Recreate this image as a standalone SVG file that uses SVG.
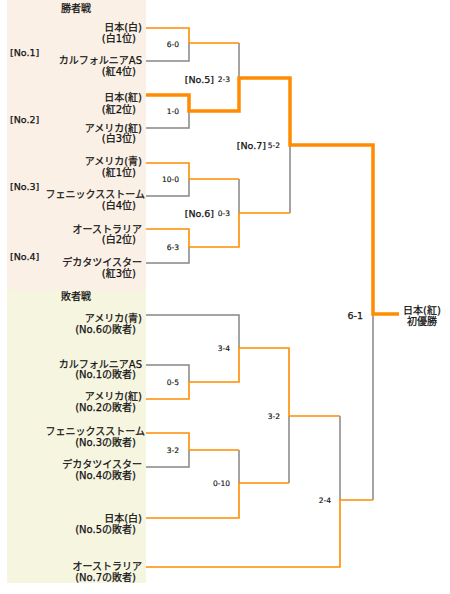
<svg xmlns="http://www.w3.org/2000/svg" width="450" height="594" viewBox="0 0 450 594">
<style>
text{stroke:#111;stroke-width:0.25;fill:#111}
.t{font-family:"DejaVu Sans","Noto Sans CJK JP",sans-serif;font-size:10px;text-anchor:end}
.c{font-family:"DejaVu Sans","Noto Sans CJK JP",sans-serif;font-size:10px;text-anchor:middle}
.n{font-family:"DejaVu Sans",sans-serif;font-size:9.5px}
.ne{font-family:"DejaVu Sans",sans-serif;font-size:9.5px;text-anchor:end}
.s{font-family:"DejaVu Sans",sans-serif;font-size:7.5px;text-anchor:end;stroke-width:0.15}
.o{stroke:#FF8C00;stroke-width:1.6;fill:none}
.ot{stroke:#FF8C00;stroke-width:3.5;fill:none}
.g{stroke:#868686;stroke-width:1.5;fill:none}
</style>
<rect x="7" y="0" width="139" height="290" fill="#FAF0E6"/>
<rect x="7" y="290" width="139" height="293" fill="#F6F5E0"/>
<text class="c" x="76" y="12">勝者戦</text>
<text class="c" x="76" y="300">敗者戦</text>
<text class="n" x="10" y="56">[No.1]</text>
<text class="n" x="10" y="122.5">[No.2]</text>
<text class="n" x="10" y="190">[No.3]</text>
<text class="n" x="10" y="260">[No.4]</text>

<g id="connectors">
<path class="g" d="M146,61H189V43M239,43V78M146,128H189V111M146,196H189V179M239,179V213M146,263H189V247M290,213V145M373,314V500"/>
<path class="g" d="M146,315H239V348M146,365H189V382M146,467H189V450M239,450V483M289,483V416M340,416V500"/>
<path class="o" d="M146,28H189V43H239M146,163H189V179H239M146,229H189V247H239V213H290"/>
<path class="o" d="M146,399H189V382H239V348H289V416H340M146,433H189V450H239M146,518H239V483H289M146,567H340V500H373"/>
<path class="ot" d="M146,95H189V111H239V78H290V145H373V314H399"/>
<text class="s" x="179" y="46.8">6-0</text>
<text class="s" x="179" y="113.8">1-0</text>
<text class="ne" x="214" y="82.5">[No.5]</text><text class="s" x="230" y="81.8">2-3</text>
<text class="ne" x="266" y="148.5">[No.7]</text><text class="s" x="280" y="147.8">5-2</text>
<text class="s" x="179" y="181.8">10-0</text>
<text class="ne" x="214" y="216.5">[No.6]</text><text class="s" x="230" y="215.8">0-3</text>
<text class="s" x="179" y="249.8">6-3</text>
<text class="s" x="230" y="350.8">3-4</text>
<text class="s" x="179" y="384.8">0-5</text>
<text class="s" x="280" y="418.8">3-2</text>
<text class="s" x="179" y="452.8">3-2</text>
<text class="s" x="230" y="485.8">0-10</text>
<text class="s" x="331" y="502.8">2-4</text>
<text class="ne" x="363" y="318.5">6-1</text>
</g>

<g id="w1"><text class="t" x="142" y="30.8">日本(白)</text><text class="t" x="136" y="41.8">(白1位)</text></g>
<g id="w2"><text class="t" x="142" y="63.8">カルフォルニアAS</text><text class="t" x="136" y="74.8">(紅4位)</text></g>
<g id="w3"><text class="t" x="142" y="101.3">日本(紅)</text><text class="t" x="136" y="112.8">(紅2位)</text></g>
<g id="w4"><text class="t" x="142" y="131.8">アメリカ(紅)</text><text class="t" x="136" y="141.8">(白3位)</text></g>
<g id="w5"><text class="t" x="142" y="165.3">アメリカ(青)</text><text class="t" x="136" y="175.8">(紅1位)</text></g>
<g id="w6"><text class="t" x="145" y="198.3">フェニックスストーム</text><text class="t" x="136" y="209.3">(白4位)</text></g>
<g id="w7"><text class="t" x="142" y="232.8">オーストラリア</text><text class="t" x="136" y="243.3">(白2位)</text></g>
<g id="w8"><text class="t" x="142" y="265.8">デカタツイスター</text><text class="t" x="136" y="277.3">(紅3位)</text></g>

<g id="l1"><text class="t" x="142" y="321.8">アメリカ(青)</text><text class="t" x="136" y="332.8">(No.6の敗者)</text></g>
<g id="l2"><text class="t" x="142" y="367.8">カルフォルニアAS</text><text class="t" x="136" y="378.3">(No.1の敗者)</text></g>
<g id="l3"><text class="t" x="142" y="399.8">アメリカ(紅)</text><text class="t" x="136" y="410.8">(No.2の敗者)</text></g>
<g id="l4"><text class="t" x="145" y="435">フェニックスストーム</text><text class="t" x="136" y="445.8">(No.3の敗者)</text></g>
<g id="l5"><text class="t" x="142" y="467.8">デカタツイスター</text><text class="t" x="136" y="478.8">(No.4の敗者)</text></g>
<g id="l6"><text class="t" x="142" y="521.8">日本(白)</text><text class="t" x="136" y="532.8">(No.5の敗者)</text></g>
<g id="l7"><text class="t" x="142" y="569.8">オーストラリア</text><text class="t" x="136" y="580.8">(No.7の敗者)</text></g>

<g id="champion"><text class="c" x="422" y="313.8">日本(紅)</text><text class="c" x="422" y="324.8">初優勝</text></g>
</svg>
